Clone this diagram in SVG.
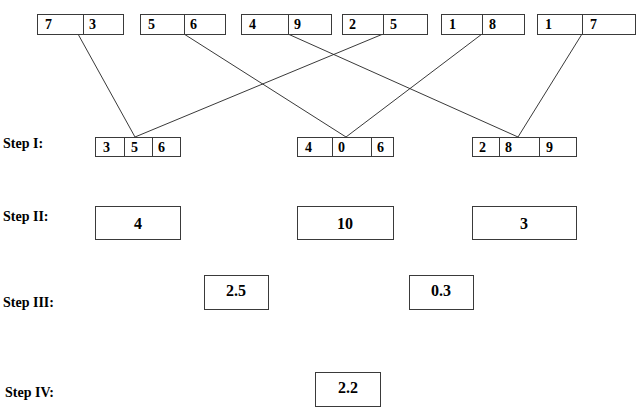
<svg xmlns="http://www.w3.org/2000/svg" width="640" height="415" viewBox="0 0 640 415">
<style>
.box{fill:#fff;stroke:#3a3a3a;stroke-width:1}
.div{stroke:#3a3a3a;stroke-width:1}
.t{font-family:'Liberation Serif','Times New Roman','DejaVu Serif',serif;font-weight:bold;font-size:14px;fill:#000}
.c{text-anchor:middle;font-size:16px}
.lbl{font-family:'Liberation Serif','Times New Roman','DejaVu Serif',serif;font-weight:bold;font-size:14px;fill:#000}
.ln{stroke:#222;stroke-width:0.9;fill:none}
</style>
<rect width="640" height="415" fill="#fff"/>
<g id="connectors">
<line class="ln" x1="78" y1="34" x2="135" y2="137"/>
<line class="ln" x1="184" y1="34" x2="346" y2="137"/>
<line class="ln" x1="288" y1="34" x2="518" y2="137"/>
<line class="ln" x1="383" y1="34" x2="135" y2="137"/>
<line class="ln" x1="482" y1="34" x2="346" y2="137"/>
<line class="ln" x1="582" y1="34" x2="518" y2="137"/>
</g>
<g id="top1"><rect class="box" x="37.5" y="14.5" width="86" height="20"/><line class="div" x1="83.5" y1="14.5" x2="83.5" y2="34.5"/><text class="t" x="45" y="29">7</text><text class="t" x="89" y="29">3</text></g>
<g id="top2"><rect class="box" x="140.5" y="14.5" width="85" height="20"/><line class="div" x1="184.5" y1="14.5" x2="184.5" y2="34.5"/><text class="t" x="148" y="29">5</text><text class="t" x="190" y="29">6</text></g>
<g id="top3"><rect class="box" x="241.5" y="14.5" width="90" height="20"/><line class="div" x1="288.5" y1="14.5" x2="288.5" y2="34.5"/><text class="t" x="249" y="29">4</text><text class="t" x="294" y="29">9</text></g>
<g id="top4"><rect class="box" x="342.5" y="14.5" width="85" height="20"/><line class="div" x1="383.5" y1="14.5" x2="383.5" y2="34.5"/><text class="t" x="349" y="29">2</text><text class="t" x="390" y="29">5</text></g>
<g id="top5"><rect class="box" x="441.5" y="14.5" width="83" height="20"/><line class="div" x1="482.5" y1="14.5" x2="482.5" y2="34.5"/><text class="t" x="449" y="29">1</text><text class="t" x="489" y="29">8</text></g>
<g id="top6"><rect class="box" x="537.5" y="14.5" width="98" height="20"/><line class="div" x1="582.5" y1="14.5" x2="582.5" y2="34.5"/><text class="t" x="545" y="29">1</text><text class="t" x="590" y="29">7</text></g>

<text class="lbl" x="3" y="148">Step I:</text>
<g id="s1a"><rect class="box" x="95.5" y="137.5" width="85" height="19"/><line class="div" x1="124.5" y1="137.5" x2="124.5" y2="156.5"/><line class="div" x1="152.5" y1="137.5" x2="152.5" y2="156.5"/><text class="t" x="103" y="152">3</text><text class="t" x="131" y="152">5</text><text class="t" x="158" y="152">6</text></g>
<g id="s1b"><rect class="box" x="297.5" y="137.5" width="96" height="19"/><line class="div" x1="332.5" y1="137.5" x2="332.5" y2="156.5"/><line class="div" x1="371.5" y1="137.5" x2="371.5" y2="156.5"/><text class="t" x="305" y="152">4</text><text class="t" x="338" y="152">0</text><text class="t" x="377" y="152">6</text></g>
<g id="s1c"><rect class="box" x="472.5" y="137.5" width="104" height="19"/><line class="div" x1="499.5" y1="137.5" x2="499.5" y2="156.5"/><line class="div" x1="539.5" y1="137.5" x2="539.5" y2="156.5"/><text class="t" x="479" y="152">2</text><text class="t" x="505" y="152">8</text><text class="t" x="546" y="152">9</text></g>

<text class="lbl" x="3" y="221">Step II:</text>
<g id="s2a"><rect class="box" x="95.5" y="206.5" width="85" height="33"/><text class="t c" x="138" y="229">4</text></g>
<g id="s2b"><rect class="box" x="297.5" y="206.5" width="96" height="33"/><text class="t c" x="345" y="229">10</text></g>
<g id="s2c"><rect class="box" x="472.5" y="206.5" width="104" height="33"/><text class="t c" x="524" y="229">3</text></g>

<text class="lbl" x="3" y="307">Step III:</text>
<g id="s3a"><rect class="box" x="204.5" y="275.5" width="64" height="34"/><text class="t c" x="236" y="296">2.5</text></g>
<g id="s3b"><rect class="box" x="409.5" y="275.5" width="64" height="34"/><text class="t c" x="441" y="296">0.3</text></g>

<text class="lbl" x="5" y="397">Step IV:</text>
<g id="s4"><rect class="box" x="315.5" y="372.5" width="65" height="34"/><text class="t c" x="348" y="393">2.2</text></g>
</svg>
